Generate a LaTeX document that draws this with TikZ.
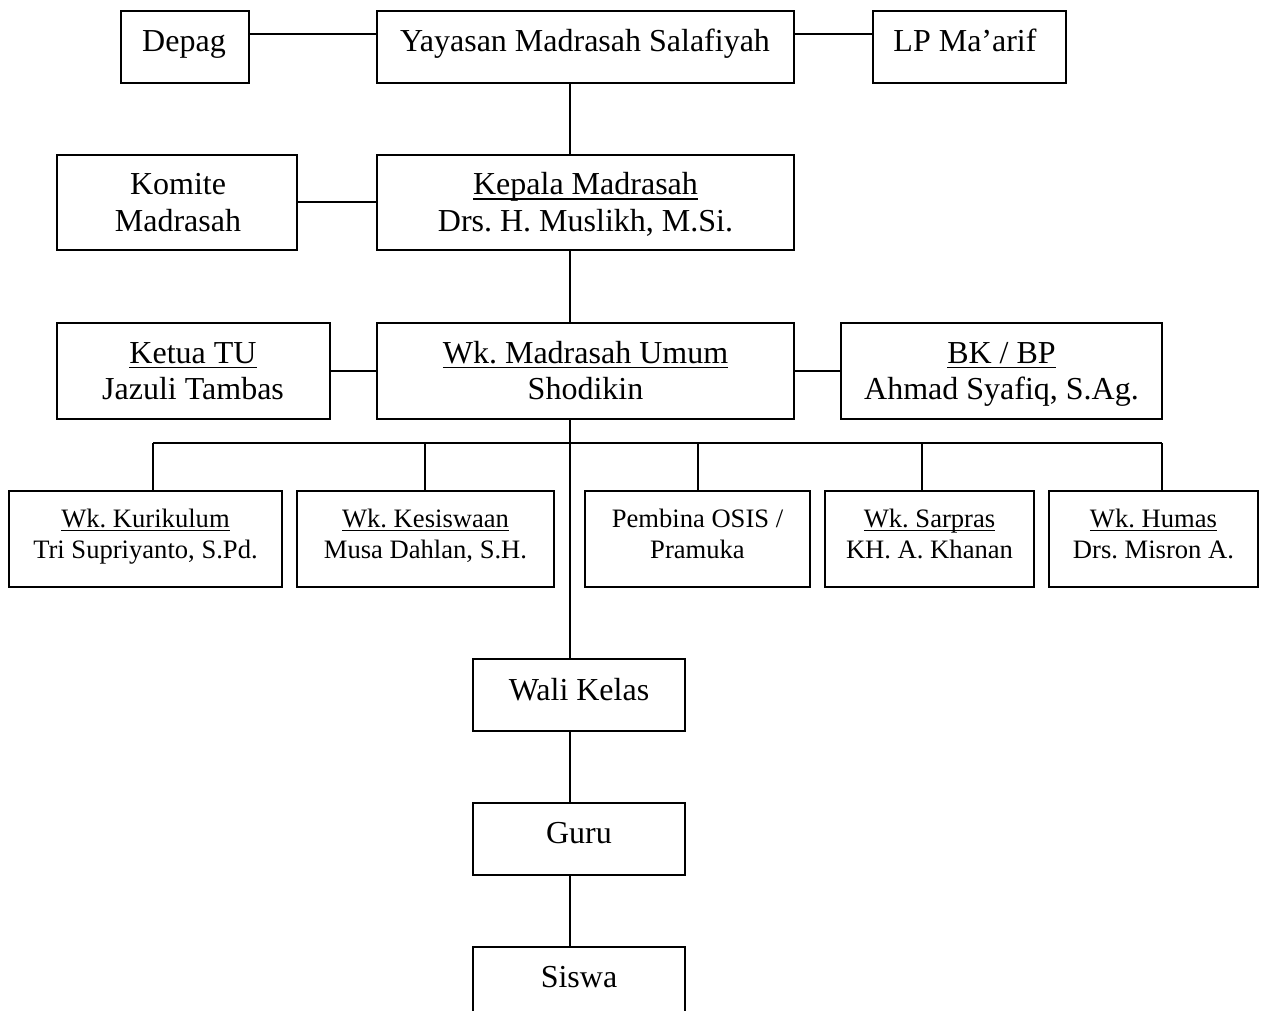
\documentclass[tikz,border=0pt]{standalone}
\usepackage{fontspec}
\setmainfont{Liberation Serif}
\newcommand\ulbig[1]{{\setbox0\hbox{#1}\rlap{\rule[-5pt]{\wd0}{1.5pt}}\box0}}
\newcommand\ulsm[1]{{\setbox0\hbox{#1}\rlap{\rule[-4pt]{\wd0}{1.3pt}}\box0}}
\tikzset{
  boxst/.style={draw, line width=2pt, inner sep=0pt, fill=none},
  bigt/.style={anchor=base, inner sep=0pt, font=\fontsize{32}{36}\selectfont},
  smt/.style={anchor=base, inner sep=0pt, font=\fontsize{26.6}{30}\selectfont},
  conn/.style={line width=2pt}
}
\newcommand\mkbox[5]{\node[boxst, minimum width={#4-#2}, minimum height={#5-#3}] (#1) at ({(#2+#4)/2},{(#3+#5)/2}) {};}
\begin{document}
\frenchspacing
\begin{tikzpicture}[x=1pt,y=-1pt]
\useasboundingbox (0,0) rectangle (1264,1011);
\clip (0,0) rectangle (1264,1011);
\fill[white] (0,0) rectangle (1264,1011);
% boxes
\mkbox{depag}{121}{11}{249}{83}
\mkbox{yay}{377}{11}{794}{83}
\mkbox{lp}{873}{11}{1066}{83}
\mkbox{komite}{57}{155}{297}{250}
\mkbox{kepala}{377}{155}{794}{250}
\mkbox{ketua}{57}{323}{330}{419}
\mkbox{wk}{377}{323}{794}{419}
\mkbox{bk}{841}{323}{1162}{419}
\mkbox{kur}{9}{491}{282}{587}
\mkbox{kes}{297}{491}{554}{587}
\mkbox{pem}{585}{491}{810}{587}
\mkbox{sar}{825}{491}{1034}{587}
\mkbox{hum}{1049}{491}{1258}{587}
\mkbox{wali}{473}{659}{685}{731}
\mkbox{guru}{473}{803}{685}{875}
\mkbox{siswa}{473}{947}{685}{1040}
% texts
\node[bigt] (tdepag) at (184,52) {Depag};
\node[bigt] (tyay) at (585,52) {Yayasan Madrasah Salafiyah};
\node[bigt] (tlp) at (965,52) {LP Ma’arif};
\node[bigt] (tkom1) at (178,195) {Komite};
\node[bigt] (tkom2) at (178,232) {Madrasah};
\node[bigt] (tkep1) at (585.5,195) {\ulbig{Kepala Madrasah}};
\node[bigt] (tkep2) at (585.5,232) {Drs. H. Muslikh, M.Si.};
\node[bigt] (tket1) at (193,363) {\ulbig{Ketua TU}};
\node[bigt] (tket2) at (193,399) {Jazuli Tambas};
\node[bigt] (twk1) at (585.5,363) {\ulbig{Wk. Madrasah Umum}};
\node[bigt] (twk2) at (585.5,399) {Shodikin};
\node[bigt] (tbk1) at (1001.5,363) {\ulbig{BK / BP}};
\node[bigt] (tbk2) at (1001.5,399) {Ahmad Syafiq, S.Ag.};
\node[smt] (tkur1) at (145.5,527) {\ulsm{Wk. Kurikulum}};
\node[smt] (tkur2) at (145.5,558) {Tri Supriyanto, S.Pd.};
\node[smt] (tkes1) at (425.5,527) {\ulsm{Wk. Kesiswaan}};
\node[smt] (tkes2) at (425.5,558) {Musa Dahlan, S.H.};
\node[smt] (tpem1) at (697.5,527) {Pembina OSIS /};
\node[smt] (tpem2) at (697.5,558) {Pramuka};
\node[smt] (tsar1) at (929.5,527) {\ulsm{Wk. Sarpras}};
\node[smt] (tsar2) at (929.5,558) {KH. A. Khanan};
\node[smt] (thum1) at (1153.5,527) {\ulsm{Wk. Humas}};
\node[smt] (thum2) at (1153.5,558) {Drs. Misron A.};
\node[bigt] (twali) at (579,700) {Wali Kelas};
\node[bigt] (tguru) at (579,843) {Guru};
\node[bigt] (tsiswa) at (579,987) {Siswa};
% helper coordinates
\coordinate (trunk) at (570,0);
\coordinate (top) at (0,34);
\coordinate (mid1) at (0,202);
\coordinate (mid2) at (0,371);
\coordinate (bus) at (0,443);
\coordinate (d1) at (153,0);
\coordinate (d2) at (425,0);
\coordinate (d3) at (698,0);
\coordinate (d4) at (922,0);
\coordinate (d5) at (1162,0);
% connectors
\draw[conn] (depag.east |- top) -- (yay.west |- top);
\draw[conn] (yay.east |- top) -- (lp.west |- top);
\draw[conn] (yay.south -| trunk) -- (kepala.north -| trunk);
\draw[conn] (komite.east |- mid1) -- (kepala.west |- mid1);
\draw[conn] (kepala.south -| trunk) -- (wk.north -| trunk);
\draw[conn] (ketua.east |- mid2) -- (wk.west |- mid2);
\draw[conn] (wk.east |- mid2) -- (bk.west |- mid2);
\draw[conn] (wk.south -| trunk) -- (wali.north -| trunk);
\draw[conn] (d1 |- bus) -- (d5 |- bus);
\draw[conn] (d1 |- bus) -- (d1 |- kur.north);
\draw[conn] (d2 |- bus) -- (d2 |- kes.north);
\draw[conn] (d3 |- bus) -- (d3 |- pem.north);
\draw[conn] (d4 |- bus) -- (d4 |- sar.north);
\draw[conn] (d5 |- bus) -- (d5 |- hum.north);
\draw[conn] (wali.south -| trunk) -- (guru.north -| trunk);
\draw[conn] (guru.south -| trunk) -- (siswa.north -| trunk);
\end{tikzpicture}
\end{document}
